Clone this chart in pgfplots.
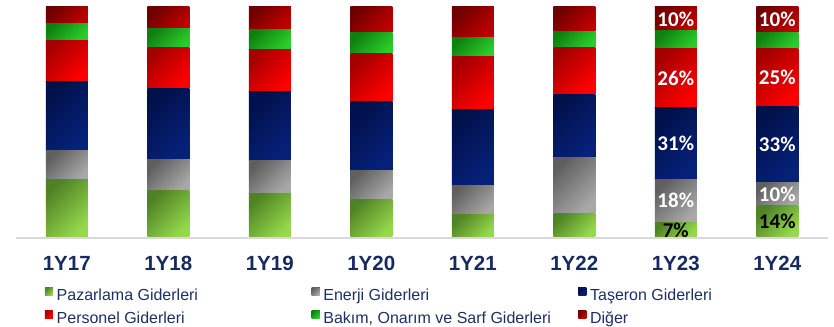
\documentclass[border=0pt]{standalone}
\usepackage{fontspec}
\setmainfont{Liberation Sans}
\newfontfamily\carlito{Carlito}
\usepackage{pgfplots}
\pgfplotsset{compat=1.18}
\usepackage{pgfplotstable}

\definecolor{ticktext}{RGB}{22,42,95}
\definecolor{legtext}{RGB}{28,48,98}
\definecolor{pazD}{HTML}{4F8224}\definecolor{pazL}{HTML}{95D84C}
\definecolor{eneD}{HTML}{5F5F5F}\definecolor{eneL}{HTML}{A8A8A8}
\definecolor{tasD}{HTML}{00104A}\definecolor{tasL}{HTML}{06217A}
\definecolor{perD}{HTML}{A50000}\definecolor{perL}{HTML}{FF0000}
\definecolor{bakD}{HTML}{0F7F0F}\definecolor{bakL}{HTML}{2ACD2A}
\definecolor{digD}{HTML}{6E0000}\definecolor{digL}{HTML}{C00000}
\definecolor{axisgray}{HTML}{D9D9D9}

\pgfplotstableread{
x P E T Pe B D
0 24.8 12.6 30.4 17.8 7.4 7.0
1 20.0 13.5 30.9 17.8 8.3 9.5
2 19.1 14.3 30.0 18.3 8.7 9.6
3 16.5 12.6 29.6 20.9 9.1 11.3
4 9.6 13.0 33.0 23.0 8.3 13.1
5 10.4 24.3 27.4 20.4 7.0 10.5
6 6.5 18.7 30.9 25.7 7.8 10.4
7 13.5 10.4 33.0 25.2 7.0 10.9
}\bars

\pgfplotstableread{
x y lab
6 15.85 18
6 40.65 31
6 68.95 26
6 94.8 10
7 18.7 10
7 40.4 33
7 69.5 25
7 94.55 10
}\whitelabels

\pgfplotstableread{
x y lab
6 3.0 7
7 6.75 14
}\blacklabels

\pgfplotsset{
  commonaxis/.style={
    at={(16bp,90bp)}, anchor=south west,
    scale only axis, width=812bp, height=230bp,
    xmin=-0.5, xmax=7.5, ymin=0, ymax=100,
  },
  grad/.style n args={2}{draw=none, top color=#1, bottom color=#2, shading angle=45},
}

\begin{document}
\begin{tikzpicture}
\path[use as bounding box] (0,0) rectangle (834bp,327bp);
% one axis per category, so that each bar gets its own shading
\foreach \i in {0,...,7}{
\pgfmathtruncatemacro{\j}{\i+1}
\begin{axis}[
  commonaxis, hide axis,
  ybar stacked, bar width=42bp,
  skip coords between index={0}{\i},
  skip coords between index={\j}{8},
]
\addplot[grad={pazD}{pazL}] table[x=x,y=P]{\bars};
\addplot[grad={eneD}{eneL}] table[x=x,y=E]{\bars};
\addplot[grad={tasD}{tasL}] table[x=x,y=T]{\bars};
\addplot[grad={perD}{perL}] table[x=x,y=Pe]{\bars};
\addplot[grad={bakD}{bakL}] table[x=x,y=B]{\bars};
\addplot[grad={digD}{digL}] table[x=x,y=D]{\bars};
\end{axis}
}
% data labels
\begin{axis}[
  commonaxis, hide axis, clip=false,
]
\addplot[only marks, mark=none, point meta=explicit symbolic,
  nodes near coords={\pgfplotspointmeta\%},
  every node near coord/.append style={anchor=center, inner sep=0pt, text=white, font=\carlito\bfseries\fontsize{21bp}{21bp}\selectfont}]
  table[x=x,y=y,meta=lab]{\whitelabels};
\addplot[only marks, mark=none, point meta=explicit symbolic,
  nodes near coords={\pgfplotspointmeta\%},
  every node near coord/.append style={anchor=center, inner sep=0pt, text=black, font=\carlito\bfseries\fontsize{21bp}{21bp}\selectfont}]
  table[x=x,y=y,meta=lab]{\blacklabels};
\end{axis}
% frame axis: baseline, tick labels, legend
\begin{axis}[
  commonaxis,
  axis x line*=bottom, hide y axis,
  x axis line style={-, draw=axisgray, line width=1.8bp, yshift=-1bp},
  xtick={0,...,7},
  xticklabels={1Y17,1Y18,1Y19,1Y20,1Y21,1Y22,1Y23,1Y24},
  major tick length=0pt,
  xticklabel style={font=\fontsize{20.5bp}{20.5bp}\selectfont\bfseries, text=ticktext, anchor=north, inner sep=0pt, yshift=-19bp},
  ytick=\empty,
  legend columns=3,
  legend cell align=left,
  legend style={draw=none, fill=none, at={(rel axis cs:0.0357,-0.2187)}, anchor=north west,
    inner sep=0pt, outer sep=0pt, font=\fontsize{16bp}{19bp}\selectfont, text=legtext,
    nodes={inner sep=0pt, text height=12bp, text depth=4bp},
    row sep=5.7bp,
    /tikz/every odd column/.style={column sep=3.7bp}},
  legend image code/.code={\fill[#1] (0bp,1bp) rectangle (8bp,9bp);},
]
\addlegendimage{grad={pazD}{pazL}}
\addlegendentry{\makebox[255bp][l]{Pazarlama Giderleri}}
\addlegendimage{grad={eneD}{eneL}}
\addlegendentry{\makebox[255bp][l]{Enerji Giderleri}}
\addlegendimage{grad={tasD}{tasL}}
\addlegendentry{\makebox[160bp][l]{Taşeron Giderleri}}
\addlegendimage{grad={perD}{perL}}
\addlegendentry{\makebox[255bp][l]{Personel Giderleri}}
\addlegendimage{grad={bakD}{bakL}}
\addlegendentry{\makebox[255bp][l]{Bakım, Onarım ve Sarf Giderleri}}
\addlegendimage{grad={digD}{digL}}
\addlegendentry{\makebox[160bp][l]{Diğer}}
\end{axis}
\end{tikzpicture}
\end{document}
